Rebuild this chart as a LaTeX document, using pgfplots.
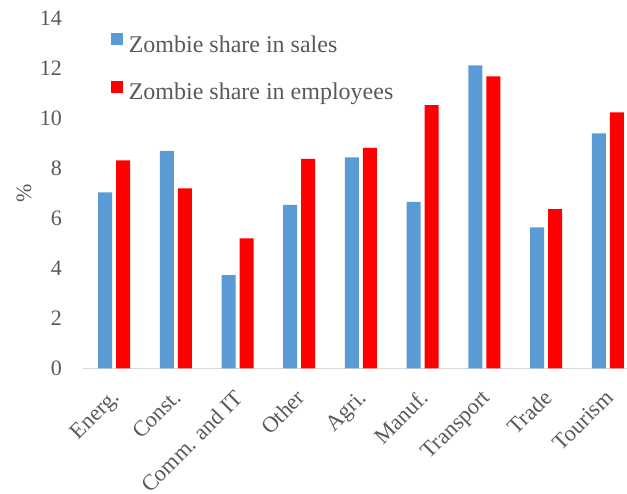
\documentclass[border=0pt]{standalone}
\usepackage{fontspec}
\setmainfont{Liberation Serif}
\usepackage{pgfplots}
\pgfplotsset{compat=1.18}
\definecolor{zblue}{HTML}{5B9BD5}
\definecolor{zred}{HTML}{FF0000}
\definecolor{txtgray}{HTML}{595959}
\definecolor{axgray}{HTML}{D9D9D9}
\begin{document}
\begin{tikzpicture}
\useasboundingbox (0,0) rectangle (627bp,494bp);
\begin{axis}[
  at={(83.2bp,125.7bp)}, anchor=south west,
  scale only axis, width=543.8bp, height=350bp,
  xmin=-0.5, xmax=8.31, ymin=0, ymax=14,
  ybar=4bp, bar width=14bp,
  axis x line=bottom, axis y line=left,
  x axis line style={-, draw=axgray, line width=1.2bp},
  y axis line style={draw=none},
  major tick length=0pt, tick style={draw=none},
  ytick={0,2,...,14},
  xtick={0,...,8},
  xticklabels={Energ., Const., Comm. and IT, Other, Agri., Manuf., Transport, Trade, Tourism},
  /pgf/number format/assume math mode=true,
  ticklabel style={font=\fontsize{22bp}{26bp}\selectfont, text=txtgray},
  yticklabel style={inner sep=0pt, xshift=-21bp},
  xticklabel style={xshift=-4bp, yshift=-20bp, rotate=45, anchor=north east, inner sep=0pt, font=\fontsize{22.4bp}{26bp}\selectfont},
  ylabel={\%},
  ylabel style={at={(rel axis cs:-0.1089,0.501)}, anchor=center, font=\fontsize{22bp}{26bp}\selectfont, text=txtgray},
  legend style={draw=none, fill=none, at={(rel axis cs:0.0511,0.958)}, anchor=north west,
    font=\fontsize{24bp}{28bp}\selectfont, text=txtgray, row sep=23.8bp, column sep=5.6bp, inner sep=0pt,
    nodes={text height=17bp, text depth=5bp, inner sep=0pt}},
  legend cell align=left,
  legend image code/.code={\fill (0bp,1.4bp) rectangle (12bp,13bp);},
]
\addplot[fill=zblue, draw=none] coordinates {(0,7.04) (1,8.70) (2,3.73) (3,6.54) (4,8.44) (5,6.66) (6,12.12) (7,5.64) (8,9.40)};
\addplot[fill=zred, draw=none] coordinates {(0,8.32) (1,7.20) (2,5.20) (3,8.38) (4,8.82) (5,10.53) (6,11.68) (7,6.37) (8,10.24)};
\legend{Zombie share in sales, Zombie share in employees}
\end{axis}
\end{tikzpicture}
\end{document}
